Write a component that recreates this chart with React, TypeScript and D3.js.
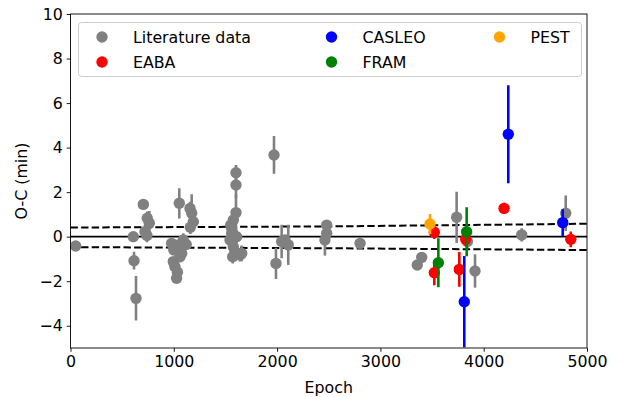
import { useEffect, useRef } from "react";
import * as d3 from "d3";

// Literature O-C timings (epoch, O-C in minutes, error)
const litEpoch = [50, 608, 615, 634, 705, 743, 763, 721, 740,
  1053, 1157, 1189, 1173, 1160, 979, 995, 1011, 1027, 1044, 1060, 1076, 1092, 1120, 1000, 1035,
  1602, 1602, 1602, 1576, 1551, 1560, 1544, 1576, 1592, 1641, 1570, 1608, 1560, 1657,
  1970, 1989, 2044, 2076, 2108, 2480, 2480, 2463, 2803,
  3357, 3400, 3738, 3842, 3916, 4368, 4794];
const litOC = [-0.42, 0.0, -1.08, -2.77, 1.45, 0.83, 0.6, 0.22, 0.05,
  1.5, 1.27, 0.67, 1.05, 0.42, -0.3, -1.12, -1.35, -1.87, -0.37, -0.9, -0.75, -0.15, -0.35, -0.6, -1.6,
  2.87, 2.32, 1.08, 0.75, 0.52, 0.15, -0.15, -0.45, -0.67, -0.82, -0.9, 0.0, 0.38, -0.75,
  3.67, -1.2, -0.22, -0.15, -0.37, 0.52, 0.15, -0.15, -0.3,
  -1.27, -0.93, 0.87, -0.22, -1.54, 0.08, 1.05];
const litErr = [0.12, 0.15, 0.4, 1.0, 0.15, 0.3, 0.55, 0.3, 0.3,
  0.68, 0.3, 0.4, 0.85, 0.3, 0.2, 0.2, 0.2, 0.2, 0.2, 0.25, 0.25, 0.3, 0.25, 0.2, 0.2,
  0.35, 0.6, 0.8, 0.3, 0.3, 0.3, 0.3, 0.3, 0.3, 0.3, 0.3, 0.3, 0.3, 0.35,
  0.85, 0.7, 0.75, 0.2, 0.9, 0.2, 0.2, 0.7, 0.15,
  0.15, 0.15, 1.15, 0.3, 0.75, 0.3, 0.8];

const eabaEpoch = [3522, 3522, 3764, 3826, 4197, 4843];
const eabaOC = [0.2, -1.62, -1.47, -0.12, 1.27, -0.12];
const eabaErr = [0.3, 0.56, 0.78, 0.3, 0.25, 0.35];

const casleoEpoch = [3812, 4238, 4765];
const casleoOC = [-2.92, 4.6, 0.63];
const casleoErr = [2.05, 2.2, 0.6];

const framEpoch = [3561, 3835];
const framOC = [-1.17, 0.22];
const framErr = [1.1, 1.1];

const pestEpoch = [3480];
const pestOC = [0.57];
const pestErr = [0.45];

// dashed confidence band
const bandEpoch = [0, 2500, 5000];
const bandUpper = [0.41, 0.46, 0.58];
const bandLower = [-0.47, -0.52, -0.6];

const xTicks = [0, 1000, 2000, 3000, 4000, 5000];
const yTicks = [-4, -2, 0, 2, 4, 6, 8, 10];

const series = [
  { name: "Literature data", color: "#808080", epoch: litEpoch, oc: litOC, err: litErr },
  { name: "EABA", color: "#ff0000", epoch: eabaEpoch, oc: eabaOC, err: eabaErr },
  { name: "CASLEO", color: "#0000ff", epoch: casleoEpoch, oc: casleoOC, err: casleoErr },
  { name: "FRAM", color: "#008000", epoch: framEpoch, oc: framOC, err: framErr },
  { name: "PEST", color: "#ffa500", epoch: pestEpoch, oc: pestOC, err: pestErr },
];

const W = 625;
const H = 397;
const FONT = "DejaVu Sans, sans-serif";
const FS = 15.8;

export default function App() {
  const ref = useRef<SVGSVGElement>(null);

  useEffect(() => {
    if (!ref.current) return;
    const svg = d3.select(ref.current);
    svg.selectAll("*").remove();

    const margin = { left: 70.5, right: W - 587, top: 14, bottom: H - 348 };
    const x = d3.scaleLinear().domain([0, 5000]).range([margin.left, W - margin.right]);
    const y = d3.scaleLinear().domain([-5, 10]).range([H - margin.bottom, margin.top]);

    svg.append("defs").append("clipPath").attr("id", "plot")
      .append("rect")
      .attr("x", x(0)).attr("y", y(10))
      .attr("width", x(5000) - x(0)).attr("height", y(-5) - y(10));

    const plot = svg.append("g").attr("clip-path", "url(#plot)");

    // zero line
    plot.append("line")
      .attr("x1", x(0)).attr("x2", x(5000))
      .attr("y1", y(0)).attr("y2", y(0))
      .attr("stroke", "black").attr("stroke-width", 1.6);

    const band = d3.line<number>().x((_, i) => x(bandEpoch[i])).y(d => y(d));
    [bandUpper, bandLower].forEach(b => {
      plot.append("path")
        .attr("d", band(b))
        .attr("fill", "none")
        .attr("stroke", "black")
        .attr("stroke-width", 2)
        .attr("stroke-dasharray", "7.4,3.2");
    });

    series.forEach(s => {
      const g = plot.append("g");
      const idx = d3.range(s.epoch.length);
      g.selectAll("line")
        .data(idx)
        .join("line")
          .attr("x1", i => x(s.epoch[i])).attr("x2", i => x(s.epoch[i]))
          .attr("y1", i => y(s.oc[i] - s.err[i]))
          .attr("y2", i => y(s.oc[i] + s.err[i]))
          .attr("stroke", s.color)
          .attr("stroke-width", 2.6);
      g.selectAll("circle")
        .data(idx)
        .join("circle")
          .attr("cx", i => x(s.epoch[i]))
          .attr("cy", i => y(s.oc[i]))
          .attr("r", 5.7)
          .attr("fill", s.color);
    });

    // axes
    const xAxis = svg.append("g")
      .attr("transform", `translate(0,${y(-5)})`)
      .call(d3.axisBottom(x).tickValues(xTicks).tickSize(3.8).tickPadding(3.8).tickSizeOuter(0)
        .tickFormat(d => String(d)));
    const yAxis = svg.append("g")
      .attr("transform", `translate(${x(0)},0)`)
      .call(d3.axisLeft(y).tickValues(yTicks).tickSize(3.8).tickPadding(3.8).tickSizeOuter(0)
        .tickFormat(d => (+d < 0 ? "\u2212" + Math.abs(+d) : String(d))));
    [xAxis, yAxis].forEach(a => {
      a.select(".domain").remove();
      a.selectAll("line").attr("stroke", "black").attr("stroke-width", 0.9);
      a.selectAll("text").attr("font-family", FONT).attr("font-size", FS).attr("fill", "black");
    });

    // frame
    svg.append("rect")
      .attr("x", x(0)).attr("y", y(10))
      .attr("width", x(5000) - x(0)).attr("height", y(-5) - y(10))
      .attr("fill", "none").attr("stroke", "black").attr("stroke-width", 0.9);

    svg.append("text")
      .attr("x", (x(0) + x(5000)) / 2).attr("y", 393)
      .attr("text-anchor", "middle")
      .attr("font-family", FONT).attr("font-size", FS)
      .text("Epoch");
    svg.append("text")
      .attr("transform", `translate(27,${(y(10) + y(-5)) / 2}) rotate(-90)`)
      .attr("text-anchor", "middle")
      .attr("font-family", FONT).attr("font-size", FS)
      .text("O-C (min)");

    // legend
    const leg = svg.append("g");
    leg.append("rect")
      .attr("x", 78.5).attr("y", 22.5).attr("width", 503).attr("height", 54)
      .attr("rx", 3)
      .attr("fill", "white").attr("fill-opacity", 0.8)
      .attr("stroke", "#cccccc").attr("stroke-width", 1);
    const colX = [102, 331.5, 499.5];
    const rowY = [37, 62];
    series.forEach((s, i) => {
      const col = Math.floor(i / 2);
      const row = i % 2;
      leg.append("circle")
        .attr("cx", colX[col]).attr("cy", rowY[row]).attr("r", 5.7).attr("fill", s.color);
      leg.append("text")
        .attr("x", colX[col] + 31).attr("y", rowY[row])
        .attr("dy", "0.35em")
        .attr("font-family", FONT).attr("font-size", FS)
        .text(s.name);
    });
  }, []);

  return (
    <svg ref={ref} width={W} height={H}
      style={{ position: "absolute", left: 0, top: 0, background: "white" }} />
  );
}
